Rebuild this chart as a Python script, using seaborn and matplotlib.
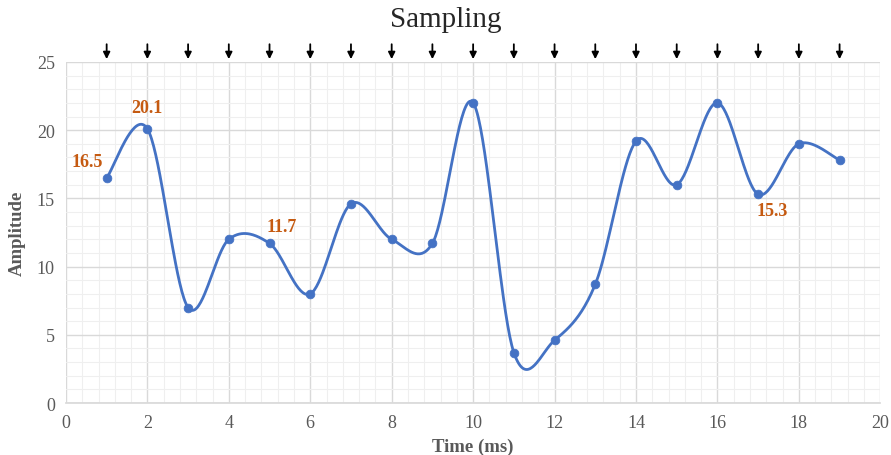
import numpy as np
import pandas as pd
import seaborn as sns
import matplotlib.pyplot as plt
from matplotlib.ticker import MultipleLocator

sns.set_theme(style="white")
plt.rcParams['font.family'] = ['Liberation Serif', 'DejaVu Serif']

# sampled data
time_ms = [1, 2, 3, 4, 5, 6, 7, 8, 9, 10, 11, 12, 13, 14, 15, 16, 17, 18, 19]
amplitude = [16.5, 20.1, 7.0, 12.0, 11.7, 8.0, 14.6, 12.0, 11.7, 22.0,
             3.7, 4.6, 8.7, 19.2, 16.0, 22.0, 15.3, 19.0, 17.8]
# which points get a value label, and label offset in points
labelled = {1: (-14, 12), 2: (0, 15), 5: (9, 12), 17: (10, -12)}

df = pd.DataFrame({'time': time_ms, 'amp': amplitude})

# Excel-like smoothed line (Catmull-Rom bezier through the points)
def smooth(x, y, n=40):
    x = np.asarray(x, float); y = np.asarray(y, float)
    px = np.concatenate([[x[0]], x, [x[-1]]])
    py = np.concatenate([[y[0]], y, [y[-1]]])
    xs, ys = [], []
    t = np.linspace(0, 1, n)
    for i in range(1, len(px) - 2):
        p0 = np.array([px[i], py[i]]); p3 = np.array([px[i + 1], py[i + 1]])
        p1 = p0 + (p3 - np.array([px[i - 1], py[i - 1]])) / 6
        p2 = p3 - (np.array([px[i + 2], py[i + 2]]) - p0) / 6
        b = ((1 - t) ** 3)[:, None] * p0 + (3 * (1 - t) ** 2 * t)[:, None] * p1 \
            + (3 * (1 - t) * t ** 2)[:, None] * p2 + (t ** 3)[:, None] * p3
        xs.append(b[:, 0]); ys.append(b[:, 1])
    return np.concatenate(xs), np.concatenate(ys)

sx, sy = smooth(df['time'], df['amp'])
curve = pd.DataFrame({'time': sx, 'amp': sy})

fig = plt.figure(figsize=(8.91, 4.56), dpi=100)
ax = fig.add_axes([0.074, 0.114, 0.914, 0.748])

sns.lineplot(data=curve, x='time', y='amp', sort=False, color='#4472C4', linewidth=2, ax=ax, zorder=3)
sns.scatterplot(data=df, x='time', y='amp', color='#4472C4', s=40, edgecolor='#4472C4', ax=ax, zorder=4)

ax.set_xlim(0, 20)
ax.set_ylim(0, 25)
ax.xaxis.set_major_locator(MultipleLocator(2))
ax.xaxis.set_minor_locator(MultipleLocator(0.4))
ax.yaxis.set_major_locator(MultipleLocator(5))
ax.yaxis.set_minor_locator(MultipleLocator(1))
ax.grid(which='major', color='#d9d9d9', linewidth=1)
ax.grid(which='minor', color='#efefef', linewidth=0.8)
ax.set_axisbelow(True)
for side in ['top', 'right', 'left']:
    ax.spines[side].set_visible(False)
ax.spines['bottom'].set_color('#d9d9d9')
ax.tick_params(axis='both', which='both', length=0, labelsize=13, colors='#595959', pad=8)

ax.set_xlabel('Time (ms)', fontsize=13.5, fontweight='bold', color='#595959', labelpad=5)
ax.set_ylabel('Amplitude', fontsize=13.5, fontweight='bold', color='#595959', labelpad=8)
fig.suptitle('Sampling', fontsize=21, y=0.985)

for xi, yi in zip(time_ms, amplitude):
    if xi in labelled:
        dx, dy = labelled[xi]
        ax.annotate(f'{yi:.1f}', (xi, yi), xytext=(dx, dy), textcoords='offset points',
                    ha='center', va='center', color='#C55A11', fontweight='bold', fontsize=13)
    ax.annotate('', xy=(xi, 1.0), xycoords=('data', 'axes fraction'),
                xytext=(xi, 1.06), textcoords=('data', 'axes fraction'),
                arrowprops=dict(arrowstyle='-|>', color='black', lw=1.3, mutation_scale=10),
                annotation_clip=False)

fig.savefig('out.png', dpi=100)
